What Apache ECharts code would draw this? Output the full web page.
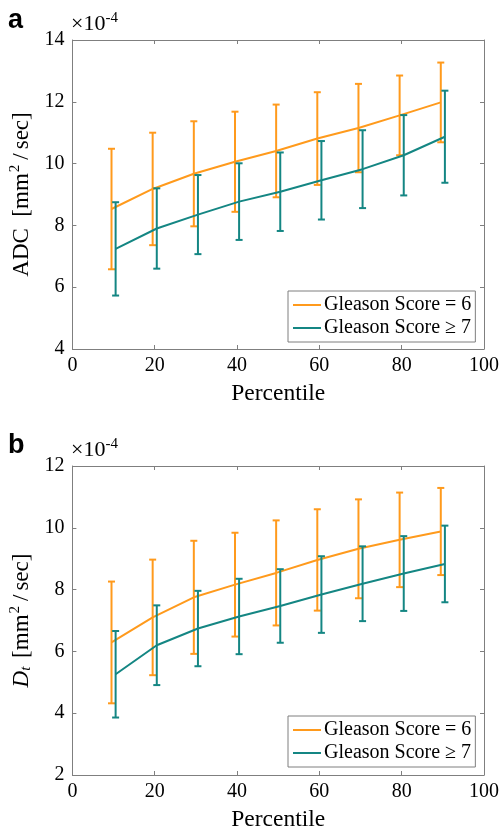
<!DOCTYPE html>
<html>
<head>
<meta charset="utf-8">
<script src="https://cdn.jsdelivr.net/npm/echarts@6/dist/echarts.min.js"></script>
<style>
html,body{margin:0;padding:0;background:#fff;}
#chart{width:502px;height:834px;}
</style>
</head>
<body>
<div id="chart"></div>
<script>
// ---- data (values in units of 1e-4 mm^2/sec) ----
const percentiles = [10, 20, 30, 40, 50, 60, 70, 80, 90];
const seriesNames = ['Gleason Score = 6', 'Gleason Score \u2265 7'];
const xTicks = [0, 20, 40, 60, 80, 100];
const adcTicks = [4, 6, 8, 10, 12, 14];
const dtTicks = [2, 4, 6, 8, 10, 12];

const adcGS6Mean = [8.53, 9.18, 9.67, 10.06, 10.41, 10.81, 11.15, 11.56, 11.98];
const adcGS6Err  = [1.95, 1.82, 1.70, 1.62, 1.50, 1.50, 1.43, 1.29, 1.29];
const adcGS7Mean = [7.24, 7.90, 8.35, 8.77, 9.09, 9.46, 9.82, 10.27, 10.87];
const adcGS7Err  = [1.51, 1.30, 1.28, 1.24, 1.27, 1.27, 1.26, 1.30, 1.49];

const dtGS6Mean = [6.29, 7.10, 7.75, 8.16, 8.54, 8.96, 9.32, 9.61, 9.88];
const dtGS6Err  = [1.97, 1.87, 1.83, 1.68, 1.70, 1.64, 1.60, 1.53, 1.41];
const dtGS7Mean = [5.26, 6.20, 6.74, 7.13, 7.47, 7.84, 8.19, 8.52, 8.83];
const dtGS7Err  = [1.40, 1.29, 1.22, 1.22, 1.19, 1.24, 1.21, 1.21, 1.24];

// ---- style ----
const ORANGE = '#FF9A1C';
const TEAL = '#148683';
const AXIS = '#7f7f7f';
const SERIF = '"Liberation Serif", "Times New Roman", serif';
const DODGE = 0.5; // small horizontal dodge between groups (percentile units)

const chart = echarts.init(document.getElementById('chart'));

function lineData(mean, shift) {
  return percentiles.map((p, i) => [p + shift, mean[i]]);
}
function errData(mean, err, shift) {
  return percentiles.map((p, i) => [p + shift, mean[i] - err[i], mean[i] + err[i]]);
}
function errSeries(name, mean, err, shift, color, idx, z) {
  return {
    type: 'custom', name: name, xAxisIndex: idx * 2, yAxisIndex: idx * 2, z: z,
    silent: true,
    data: errData(mean, err, shift),
    encode: { x: 0, y: [1, 2] },
    renderItem: function (params, api) {
      const x = api.value(0);
      const lo = api.coord([x, api.value(1)]);
      const hi = api.coord([x, api.value(2)]);
      const hw = 3.5;
      const st = { stroke: color, lineWidth: 2 };
      return {
        type: 'group',
        children: [
          { type: 'line', shape: { x1: lo[0], y1: lo[1], x2: hi[0], y2: hi[1] }, style: st },
          { type: 'line', shape: { x1: lo[0] - hw, y1: lo[1], x2: lo[0] + hw, y2: lo[1] }, style: st },
          { type: 'line', shape: { x1: hi[0] - hw, y1: hi[1], x2: hi[0] + hw, y2: hi[1] }, style: st }
        ]
      };
    }
  };
}
function lineSeries(name, mean, shift, color, idx, z) {
  return {
    type: 'line', name: name, xAxisIndex: idx * 2, yAxisIndex: idx * 2, z: z,
    data: lineData(mean, shift), showSymbol: false, symbol: 'none',
    lineStyle: { color: color, width: 2 }, itemStyle: { color: color },
    animation: false
  };
}

function xAxes(gridIndex) {
  return [
    {
      type: 'value', gridIndex: gridIndex, position: 'bottom',
      min: xTicks[0], max: xTicks[xTicks.length - 1], interval: xTicks[1] - xTicks[0],
      name: 'Percentile', nameLocation: 'middle', nameGap: 33,
      nameTextStyle: { fontFamily: SERIF, fontSize: 23.5, color: '#000' },
      axisLine: { show: true, onZero: false, lineStyle: { color: AXIS, width: 1 } },
      axisTick: { show: true, inside: true, length: 4, lineStyle: { color: AXIS } },
      axisLabel: { fontFamily: SERIF, fontSize: 20, color: '#000', margin: 7 },
      splitLine: { show: false }
    },
    {
      type: 'value', gridIndex: gridIndex, position: 'top',
      min: xTicks[0], max: xTicks[xTicks.length - 1], interval: xTicks[1] - xTicks[0],
      axisLine: { show: true, onZero: false, lineStyle: { color: AXIS, width: 1 } },
      axisTick: { show: true, inside: true, length: 4, lineStyle: { color: AXIS } },
      axisLabel: { show: false }, splitLine: { show: false }
    }
  ];
}
function yAxes(gridIndex, ticks, nameRich) {
  return [
    {
      type: 'value', gridIndex: gridIndex, position: 'left',
      min: ticks[0], max: ticks[ticks.length - 1], interval: ticks[1] - ticks[0],
      name: nameRich.text, nameLocation: 'middle', nameGap: 33, nameRotate: 90,
      nameTextStyle: { fontFamily: SERIF, fontSize: 23, color: '#000', rich: nameRich.rich },
      axisLine: { show: true, onZero: false, lineStyle: { color: AXIS, width: 1 } },
      axisTick: { show: true, inside: true, length: 4, lineStyle: { color: AXIS } },
      axisLabel: { fontFamily: SERIF, fontSize: 20, color: '#000', margin: 8 },
      splitLine: { show: false }
    },
    {
      type: 'value', gridIndex: gridIndex, position: 'right',
      min: ticks[0], max: ticks[ticks.length - 1], interval: ticks[1] - ticks[0],
      axisLine: { show: true, onZero: false, lineStyle: { color: AXIS, width: 1 } },
      axisTick: { show: true, inside: true, length: 4, lineStyle: { color: AXIS } },
      axisLabel: { show: false }, splitLine: { show: false }
    }
  ];
}

const richBase = {
  n: { fontFamily: SERIF, fontSize: 23, color: '#000' },
  sl: { fontFamily: SERIF, fontSize: 23, color: '#000', padding: [0, 4, 0, 4] },
  i: { fontFamily: SERIF, fontSize: 23, fontStyle: 'italic', color: '#000' },
  sup: { fontFamily: SERIF, fontSize: 15, color: '#000', padding: [0, 1, 13, 1] },
  sub: { fontFamily: SERIF, fontSize: 15, fontStyle: 'italic', color: '#000', padding: [8, 3, 0, 0] }
};
const adcName = { text: '{n|ADC  [mm}{sup|2}{sl|/}{n|sec]}', rich: richBase };
const dtName = { text: '{i|D}{sub|t}{n| [mm}{sup|2}{sl|/}{n|sec]}', rich: richBase };

function legendAt(top) {
  return {
    show: true, orient: 'vertical', left: 288, top: top,
    padding: [3, 4, 3, 5], itemGap: 1, itemWidth: 28, itemHeight: 2, icon: 'rect',
    borderColor: AXIS, borderWidth: 1, backgroundColor: '#fff',
    textStyle: { fontFamily: SERIF, fontSize: 20, color: '#000', lineHeight: 22, padding: [0, 0, 0, -2] },
    data: seriesNames.map(n => ({ name: n, icon: 'rect' })),
    selectedMode: false
  };
}

function expLabel(top) {
  return {
    type: 'text', left: 71, top: top,
    style: {
      text: '{n|\u00d710}{sup|-4}',
      rich: {
        n: { fontFamily: SERIF, fontSize: 22, color: '#000' },
        sup: { fontFamily: SERIF, fontSize: 15, color: '#000', padding: [0, 0, 12, 0] }
      }
    }
  };
}

const option = {
  animation: false,
  backgroundColor: '#fff',
  grid: [
    { left: 70, top: 40, width: 415, height: 309, containLabel: false },
    { left: 70, top: 466, width: 415, height: 309, containLabel: false }
  ],
  xAxis: [...xAxes(0), ...xAxes(1)],
  yAxis: [...yAxes(0, adcTicks, adcName), ...yAxes(1, dtTicks, dtName)],
  legend: [legendAt(291), legendAt(716)],
  graphic: [
    { type: 'text', left: 8, top: 7, style: { text: 'a', fontFamily: 'Liberation Sans, Arial, sans-serif', fontWeight: 'bold', fontSize: 27, fill: '#000' } },
    { type: 'text', left: 8, top: 432, style: { text: 'b', fontFamily: 'Liberation Sans, Arial, sans-serif', fontWeight: 'bold', fontSize: 27, fill: '#000' } },
    expLabel(11),
    expLabel(437)
  ],
  series: [
    errSeries('err6a', adcGS6Mean, adcGS6Err, -DODGE, ORANGE, 0, 2),
    lineSeries(seriesNames[0], adcGS6Mean, -DODGE, ORANGE, 0, 3),
    errSeries('err7a', adcGS7Mean, adcGS7Err, DODGE, TEAL, 0, 4),
    lineSeries(seriesNames[1], adcGS7Mean, DODGE, TEAL, 0, 5),
    errSeries('err6b', dtGS6Mean, dtGS6Err, -DODGE, ORANGE, 1, 2),
    lineSeries(seriesNames[0], dtGS6Mean, -DODGE, ORANGE, 1, 3),
    errSeries('err7b', dtGS7Mean, dtGS7Err, DODGE, TEAL, 1, 4),
    lineSeries(seriesNames[1], dtGS7Mean, DODGE, TEAL, 1, 5)
  ]
};
chart.setOption(option);
</script>
</body>
</html>
